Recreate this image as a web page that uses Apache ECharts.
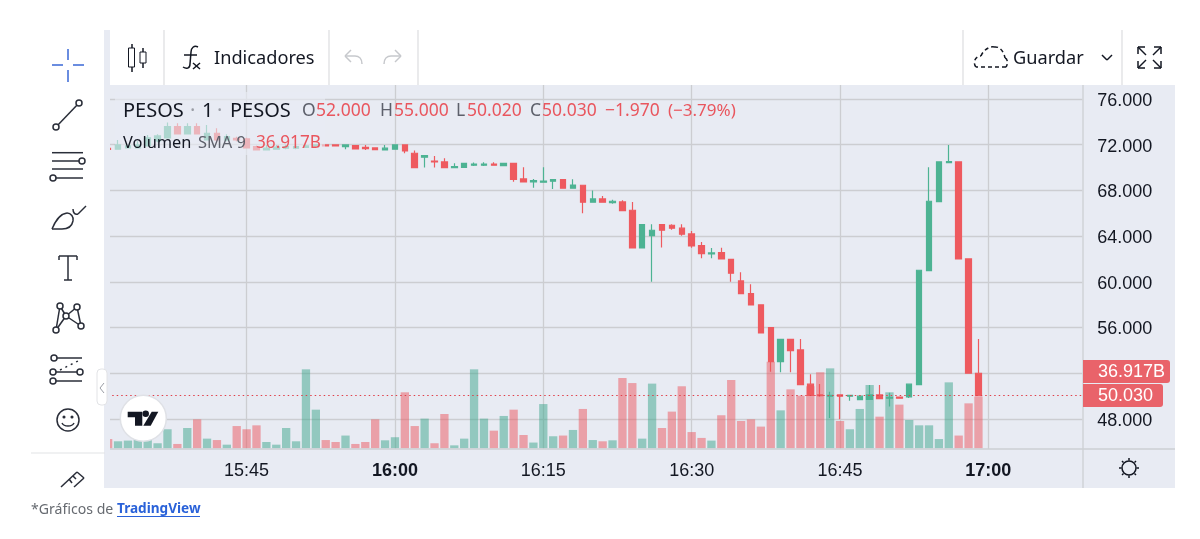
<!DOCTYPE html>
<html>
<head>
<meta charset="utf-8">
<style>html,body{margin:0;padding:0;background:#fff}#chart{width:1200px;height:539px}</style>
<script src="https://cdn.jsdelivr.net/npm/echarts@6/dist/echarts.min.js"></script>
</head>
<body>
<div id="chart"></div>
<script>
// one candle per minute, first one is 15:31
var opens = [71.67,71.60,71.71,71.71,71.89,72.33,72.59,73.58,72.94,73.58,72.41,73.00,72.41,72.55,72.50,71.83,71.54,71.60,71.69,71.69,71.77,71.89,71.98,71.98,71.83,71.91,71.77,71.71,71.54,71.60,
  71.98,71.25,70.90,70.57,70.49,69.99,70.02,70.20,70.20,70.29,70.16,70.37,69.00,68.74,68.71,68.80,68.94,68.19,68.45,66.96,67.25,66.93,66.99,66.26,62.96,64.04,65.00,64.95,64.69,64.19,
  63.16,62.44,62.55,61.97,60.08,58.97,57.98,55.99,53.01,54.97,54.04,51.04,50.10,49.99,50.10,49.99,49.69,49.72,50.10,49.81,49.92,49.92,51.00,60.97,67.01,70.43,70.49,62.00,52.00];
var closes = [71.58,71.98,71.89,71.98,72.59,72.76,73.58,72.94,73.58,72.94,73.00,72.41,72.70,72.41,71.71,71.54,71.69,71.78,71.83,71.83,71.89,71.98,71.89,71.89,71.98,71.62,71.65,71.56,71.69,71.98,
  71.45,69.99,71.04,70.49,69.99,70.08,70.37,70.29,70.29,70.20,70.37,68.97,68.74,68.85,68.82,68.94,68.19,68.47,66.96,67.25,66.96,67.05,66.23,62.96,65.00,64.51,64.51,64.69,64.16,63.14,
  62.46,62.53,62.00,60.75,58.97,57.98,55.52,53.01,54.97,53.98,51.00,50.07,50.04,50.07,49.99,50.07,49.99,50.10,49.77,49.90,49.81,51.04,61.01,67.05,70.49,70.51,62.00,52.00,50.03];
var lows = [71.50,71.60,71.70,71.70,71.89,72.20,72.59,72.94,72.94,72.94,72.41,72.12,72.30,72.30,71.71,71.50,71.54,71.60,71.60,71.60,71.70,71.85,71.85,71.89,71.60,71.62,71.54,71.56,71.54,71.60,
  71.25,69.99,70.00,70.00,69.99,69.99,70.02,70.14,70.14,70.17,70.16,68.76,68.74,68.24,68.71,68.12,68.19,68.19,66.00,66.96,66.96,66.84,66.23,62.96,62.96,60.01,63.00,64.56,64.04,62.99,
  62.06,62.06,62.00,60.01,58.97,57.98,55.52,52.14,52.09,52.09,51.00,50.07,49.95,48.09,47.97,49.60,49.69,49.72,49.77,49.08,49.80,49.84,51.00,60.97,67.01,70.43,62.00,52.00,50.02];
var highs = [71.70,72.41,72.00,72.30,72.85,72.90,73.93,73.87,73.87,73.87,73.73,73.43,72.90,72.70,72.60,71.90,71.98,71.98,72.00,71.95,72.00,72.00,72.00,72.00,71.98,71.98,71.98,71.71,71.98,71.98,
  71.98,71.48,71.04,71.01,70.81,70.37,70.37,70.43,70.46,70.46,70.37,70.37,70.02,69.00,70.02,68.94,68.94,68.97,68.45,67.98,67.51,67.19,67.14,66.99,65.00,65.04,65.00,65.04,65.04,64.45,
  63.49,62.96,62.99,61.97,60.84,59.79,57.98,55.99,54.97,54.97,55.00,51.91,51.06,50.39,50.13,50.10,50.00,50.97,50.97,50.30,49.95,51.04,61.01,70.02,70.49,71.98,70.49,62.00,55.00];
// volume in billions
var volumes = [6.6,5.0,5.5,6.4,6.4,3.6,13.6,3.1,14.5,20.7,6.9,5.9,2.6,15.9,13.6,16.4,4.5,2.6,14.5,5.0,56.4,27.6,5.9,4.5,9.1,3.1,4.5,20.7,5.7,7.9,
  40.0,15.9,21.2,3.6,24.5,2.1,6.9,56.4,21.2,12.6,23.1,27.6,9.5,4.1,31.6,8.6,9.1,13.1,28.1,5.9,5.0,5.7,50.2,46.6,6.9,46.2,14.5,26.2,44.3,11.6,
  7.4,5.5,23.6,48.8,19.5,20.7,15.5,61.8,27.1,42.1,37.6,44.3,54.3,57.1,19.5,13.6,28.1,45.2,22.6,40.0,31.2,20.2,16.4,16.4,6.6,47.1,9.1,32.1,36.917];

var timeLabels = ['15:45','16:00','16:15','16:30','16:45','17:00'];
var boldLabels = ['16:00','17:00'];
var priceTicks = [48,52,56,60,64,68,72,76];
var priceLabels = [48,56,60,64,68,72,76]; // 52.000 sits under the tags
var lastPrice = 50.03;

var categories = [];
for (var i = 0; i < 99; i++) {
    var m = 15 * 60 + 31 + i;
    var mm = m % 60;
    categories.push(Math.floor(m / 60) + ':' + (mm < 10 ? '0' + mm : mm));
}

var candleData = [];
var barData = [];
for (var j = 0; j < opens.length; j++) {
    candleData.push([opens[j], closes[j], lows[j], highs[j]]);
    barData.push({
        value: volumes[j],
        itemStyle: { color: closes[j] >= opens[j] ? 'rgba(60,165,139,0.5)' : 'rgba(236,85,93,0.5)' }
    });
}

var BG = '#e8ebf3', INK = '#131722', ICON = '#2a2e39', RED = '#e9565e', FONT = '"Noto Sans"', NUM = '"Liberation Sans"';
var shapes = [];

function rect(x, y, w, h, fill, z, extra) {
    var o = { type: 'rect', silent: true, z: z, shape: { x: x, y: y, width: w, height: h }, style: { fill: fill } };
    if (extra && extra.r) o.shape.r = extra.r;
    if (extra && extra.opacity) o.style.opacity = extra.opacity;
    if (extra && extra.stroke) o.style.stroke = extra.stroke;
    shapes.push(o);
}
function line(x1, y1, x2, y2, color, width, z, dash) {
    shapes.push({ type: 'line', silent: true, z: z || 60, shape: { x1: x1, y1: y1, x2: x2, y2: y2 },
        style: { stroke: color || ICON, lineWidth: width || 1.5, lineDash: dash || null } });
}
function circle(cx, cy, r, fill, stroke, z) {
    shapes.push({ type: 'circle', silent: true, z: z || 61, shape: { cx: cx, cy: cy, r: r },
        style: { fill: fill || '#fff', stroke: stroke || ICON, lineWidth: 1.5 } });
}
// small path reader, the graphic component has no svg path type: M, L, C and Z only
function icon(d, color, dash, width) {
    var t = d.match(/[MLCZ]|-?[\d.]+/g), k = 0, x = 0, y = 0, sx = 0, sy = 0, cmd;
    while (k < t.length) {
        cmd = t[k++];
        if (cmd === 'M') { x = sx = +t[k++]; y = sy = +t[k++]; }
        else if (cmd === 'L') { line(x, y, +t[k], +t[k + 1], color, width, 60, dash); x = +t[k++]; y = +t[k++]; }
        else if (cmd === 'Z') { line(x, y, sx, sy, color, width, 60, dash); x = sx; y = sy; }
        else if (cmd === 'C') {
            shapes.push({ type: 'bezierCurve', silent: true, z: 60,
                shape: { x1: x, y1: y, cpx1: +t[k], cpy1: +t[k + 1], cpx2: +t[k + 2], cpy2: +t[k + 3], x2: +t[k + 4], y2: +t[k + 5] },
                style: { stroke: color || ICON, lineWidth: width || 1.5, fill: 'none', lineDash: dash || null } });
            x = +t[k + 4]; y = +t[k + 5]; k += 6;
        }
    }
}
function polygon(points, fill, z) {
    shapes.push({ type: 'polygon', silent: true, z: z, shape: { points: points }, style: { fill: fill } });
}
function text(x, y, str, color, size, family, weight, z) {
    shapes.push({ type: 'text', silent: true, z: z || 70, x: x, y: y + 1,
        style: { text: str, fill: color, fontSize: size, fontFamily: family || FONT, fontWeight: weight || 'normal',
            verticalAlign: 'middle', align: 'left' } });
}

// panel background and the parts that sit over the plot
rect(104, 85, 1071, 403, BG, -10);
rect(0, 0, 104, 539, '#fff', 50);
rect(104, 30, 6, 458, BG, 50);
rect(110, 30, 1065, 55, '#fff', 50);
line(1083, 85, 1083, 488, '#cdcfd3', 1.3, 5);
line(110, 449, 1175, 449, '#cdcfd3', 1.3, 5);
[164, 329, 418, 963, 1122].forEach(function (x) { line(x, 30, x, 85, '#dcdde0', 1.2); });
line(31, 453, 105, 453, '#e2e3e6', 1.2);

// top toolbar
line(132, 44, 132, 72, INK, 1.5); rect(128.5, 48, 6, 19, '#fff', 61, { stroke: INK });
line(143, 48, 143, 68, INK, 1.5); rect(140, 52, 6, 11, '#fff', 61, { stroke: INK });
icon('M198 47 C194 45 191 48 191 52 L190 64 C190 69 186 69 183 67 M184 55 L197 55 M193 63 L200 69 M200 63 L193 69', INK);
text(214, 58, 'Indicadores', INK, 18.2);
icon('M351 50 L345 56 L351 62 M345 56 L355 56 C359 56 362 59 362 64', '#c6c8cc');
icon('M395 50 L401 56 L395 62 M401 56 L391 56 C387 56 384 59 384 64', '#c6c8cc');
icon('M976 67 C972 62 976 56 981 56 C983 50 990 46 994 47 C1000 46 1004 52 1005 58 C1008 59 1008 64 1006 67 L976 67', INK, [4, 3]);
text(1013, 58, 'Guardar', INK, 18.2);
icon('M1102 55 L1107 60 L1112 55', INK);
icon('M1145 47 L1138 47 L1138 54 M1138 47 L1146 55 M1154 47 L1161 47 L1161 54 M1161 47 L1153 55 M1138 61 L1138 68 L1145 68 M1138 68 L1146 60 M1161 61 L1161 68 L1154 68 M1161 68 L1153 60', INK);

// left toolbar
line(52, 65, 63, 65, '#3867d6'); line(73, 65, 84, 65, '#3867d6');
line(68, 49, 68, 60, '#3867d6'); line(68, 70, 68, 82, '#3867d6');
line(56, 127, 79, 103); circle(79, 103, 3); circle(56, 127, 3);
line(52, 152.7, 83, 152.7); line(52, 161, 80, 161); circle(82, 161, 3);
line(52, 169, 83, 169); line(55, 178, 83, 178); circle(53, 178, 3);
icon('M52 229 C55 222 59 214 67 213 C71 213 74 217 73 221 C72 226 68 229 62 229 Z M73 209 C73 213 75 215 78 214 L86 206');
icon('M59 260 L59 256 L77 256 L77 260 M68 256 L68 280 M64 280 L72 280');
[[60, 306, 56, 330], [60, 306, 66, 316], [66, 316, 77, 307], [77, 307, 81, 326], [66, 316, 81, 326], [66, 316, 56, 330]].forEach(function (s) {
    line(s[0], s[1], s[2], s[3]);
});
[[60, 306], [77, 307], [66, 316], [56, 330], [81, 326]].forEach(function (c) { circle(c[0], c[1], 3); });
line(54, 358, 82, 358); circle(54, 358, 3);
icon('M60 370 L80 360', ICON, [2, 4]);
line(53, 372, 80, 372); circle(53, 372, 3); circle(80, 372, 3);
line(53, 381, 82, 381); circle(53, 381, 3);
circle(68, 420, 11, '#fff', ICON, 59);
circle(64, 417, 0.8, ICON, ICON); circle(72, 417, 0.8, ICON, ICON);
icon('M62 423 C64 427 72 427 74 423');
icon('M61 487 L77 472 L84 478 L74 487 M69 479 L72 483 M73 476 L76 479');
rect(97, 369, 10, 36, '#fff', 62, { r: 4, stroke: '#e2e3e6' });
shapes.push({ type: 'polyline', silent: true, z: 63, shape: { points: [[104, 383], [100, 388], [104, 393]] },
    style: { stroke: '#9a9da5', lineWidth: 1, fill: 'none' } });

// legend rows, candles behind them are washed out
rect(115, 92, 210, 63, BG, 40, { opacity: 0.62 });
text(123, 110, 'PESOS', INK, 20);
text(190, 110, '·', '#9a9da5', 20);
text(202, 110, '1', INK, 20);
text(217, 110, '·', '#9a9da5', 20);
text(230, 110, 'PESOS', INK, 20);
var grey = '#5d606b';
text(302, 110, 'O', grey, 17.5); text(316, 110, '52.000', RED, 17.5);
text(380, 110, 'H', grey, 17.5); text(394, 110, '55.000', RED, 17.5);
text(456, 110, 'L', grey, 17.5); text(467, 110, '50.020', RED, 17.5);
text(530, 110, 'C', grey, 17.5); text(542, 110, '50.030', RED, 17.5);
text(605, 110, '−1.970', RED, 17.5); text(668, 110, '(−3.79%)', RED, 17);
text(123, 142, 'Volumen', INK, 16.4);
text(198, 142, 'SMA 9', grey, 16.4);
text(256, 142, '36.917B', RED, 17.2);

// last value tags
rect(1083, 360, 87, 23, '#e9636a', 65, { r: [0, 3, 3, 0] });
rect(1083, 384, 80, 23, '#e9636a', 66, { r: [0, 3, 3, 0] });
text(1098, 371, '36.917B', '#fff', 18, NUM, 'normal', 70);
text(1098, 395, '50.030', '#fff', 18, NUM, 'normal', 70);

// logo badge
circle(143.3, 418.3, 23, '#fff', '#dfe1e6', 64);
polygon([[127.7, 411.7], [142.3, 411.7], [142.3, 425.7], [135, 425.7], [135, 417.3], [127.7, 417.3]], INK, 65);
polygon([[151.7, 411.7], [158.3, 411.7], [150.7, 425.7], [143.3, 425.7]], INK, 65);
circle(145.7, 413.7, 2.5, INK, INK, 65);

// settings icon
circle(1129, 468, 7, BG, INK, 60);
icon('M1129 458 L1129 460.5 M1129 475.5 L1129 478 M1119 468 L1121.5 468 M1136.5 468 L1139 468 M1122 461 L1123.5 462.5 M1134.5 473.5 L1136 475 M1136 461 L1134.5 462.5 M1123.5 473.5 L1122 475', INK);

// footer
text(31, 508.5, '*Gráficos de', '#666a70', 14.1);
text(117, 508.5, 'TradingView', '#2a62d9', 13.6, FONT, 'bold');
line(117, 516.5, 200, 516.5, '#2a62d9', 1.2);

var chart = echarts.init(document.getElementById('chart'));
chart.setOption({
    animation: false,
    backgroundColor: '#fff',
    graphic: { elements: shapes },
    grid: { left: 103.2, top: 85, width: 979.1, height: 364 },
    xAxis: {
        type: 'category',
        data: categories,
        boundaryGap: true,
        axisLine: { show: false },
        axisTick: { show: false, alignWithLabel: true, interval: function (idx, val) { return timeLabels.indexOf(val) >= 0; } },
        splitLine: {
            show: true,
            alignWithLabel: true,
            interval: function (idx, val) { return timeLabels.indexOf(val) >= 0; },
            lineStyle: { color: '#cccdd1', width: 1.3 }
        },
        axisLabel: {
            margin: 13,
            interval: function (idx, val) { return timeLabels.indexOf(val) >= 0; },
            formatter: function (val) { return boldLabels.indexOf(val) >= 0 ? '{b|' + val + '}' : val; },
            color: INK,
            fontSize: 18,
            fontFamily: NUM,
            rich: { b: { fontWeight: 'bold', fontSize: 18, fontFamily: NUM, color: INK } }
        }
    },
    yAxis: [{
        type: 'value',
        position: 'right',
        min: 45.37,
        max: 77.22,
        axisLine: { show: false },
        axisTick: { show: false, customValues: priceTicks },
        splitLine: { show: true, lineStyle: { color: '#cccdd1', width: 1.3 } },
        axisLabel: {
            customValues: priceLabels,
            margin: 15,
            formatter: function (v) { return '{p|' + v.toFixed(3) + '}'; },
            rich: { p: { padding: [4, 0, 0, 0], color: INK, fontSize: 18, fontFamily: NUM } }
        }
    }, {
        type: 'value',
        min: -0.5,
        max: 259.5,
        show: false,
        splitLine: { show: false }
    }],
    series: [{
        name: 'Volumen',
        type: 'bar',
        yAxisIndex: 1,
        barWidth: 8.3,
        z: 2,
        data: barData
    }, {
        name: 'PESOS',
        type: 'candlestick',
        barWidth: 6,
        z: 3,
        itemStyle: { color: '#4db393', color0: '#ee5a5f', borderColor: '#4db393', borderColor0: '#ee5a5f', borderWidth: 1.2 },
        data: candleData,
        markLine: {
            silent: true,
            symbol: 'none',
            label: { show: false },
            lineStyle: { color: '#e0404a', type: [1.5, 3], width: 1.2 },
            data: [{ yAxis: lastPrice }]
        }
    }]
});
</script>
</body>
</html>
